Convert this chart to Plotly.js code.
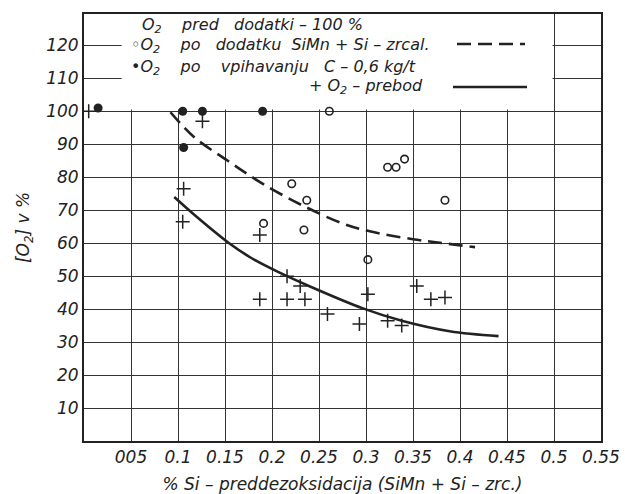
<!DOCTYPE html>
<html>
<head>
<meta charset="utf-8">
<script src="https://cdn.plot.ly/plotly-3.0.1.min.js"></script>
<style>
html,body{margin:0;padding:0;background:#fff;}
#chart{width:625px;height:494px;}
</style>
</head>
<body>
<div id="chart"></div>
<script>
// ---- data ----
// O2 po vpihavanju C - 0,6 kg/t (filled circles)
var blowX = [0.015, 0.105, 0.126, 0.190, 0.106];
var blowY = [101, 100, 100, 100, 89];
// O2 po dodatku SiMn + Si-zrcal. (open circles)
var addX = [0.261, 0.221, 0.237, 0.191, 0.234, 0.323, 0.332, 0.341, 0.384, 0.302];
var addY = [100, 78, 73, 66, 64, 83, 83, 85.5, 73, 55];
// O2 - prebod (crosses)
var prebodX = [0.005, 0.126, 0.106, 0.105, 0.187, 0.187, 0.216, 0.216, 0.230, 0.235, 0.259, 0.293, 0.302, 0.323, 0.338, 0.354, 0.369, 0.384];
var prebodY = [100, 97, 76.5, 66.5, 62.5, 43, 50, 43, 47, 43, 38.5, 35.5, 44.5, 36.5, 35, 47, 43, 43.5];
// dashed curve (SiMn + Si-zrcal.)
var dashX = [0.092, 0.117, 0.153, 0.189, 0.232, 0.275, 0.304, 0.350, 0.382, 0.416];
var dashY = [99.7, 92.2, 85, 78.2, 71.5, 66, 63.6, 61.2, 60, 58.8];
// solid curve (prebod)
var solidX = [0.096, 0.117, 0.153, 0.178, 0.207, 0.241, 0.296, 0.339, 0.389, 0.441];
var solidY = [74, 68.7, 60.3, 55.5, 51.2, 46.8, 40.3, 36.4, 33.3, 31.8];
// ticks
var xTickVals = [0.05, 0.1, 0.15, 0.2, 0.25, 0.3, 0.35, 0.4, 0.45, 0.5, 0.55];
var xTickText = ["005", "0.1", "0.15", "0.2", "0.25", "0.3", "0.35", "0.4", "0.45", "0.5", "0.55"];
var yTickVals = [10, 20, 30, 40, 50, 60, 70, 80, 90, 100, 110, 120];
var yTickText = ["10", "20", "30", "40", "50", "60", "70", "80", "90", "100", "110", "120"];

var INK = '#222';
var FONT = {family: 'DejaVu Sans, sans-serif', size: 17, color: INK, style: 'italic'};
var LFONT = {family: 'DejaVu Sans, sans-serif', size: 16, color: INK, style: 'italic'};

var traces = [
  {x: dashX, y: dashY, mode: 'lines', line: {color: INK, width: 2.6, dash: '14px,7px', shape: 'spline'}, hoverinfo: 'skip'},
  {x: solidX, y: solidY, mode: 'lines', line: {color: INK, width: 2.6, shape: 'spline'}, hoverinfo: 'skip'},
  {x: addX, y: addY, mode: 'markers', marker: {symbol: 'circle-open', size: 7.5, color: INK, line: {width: 1.6, color: INK}}},
  {x: blowX, y: blowY, mode: 'markers', marker: {symbol: 'circle', size: 9, color: INK}},
  {x: prebodX, y: prebodY, mode: 'markers', marker: {symbol: 'cross-thin-open', size: 10, color: INK, line: {width: 1.5, color: INK}}}
];

// pixel helpers for legend decoration (plot area 84..601 x 14..441)
function px(x){ return (x - 84) / 517; }
function py(y){ return (441 - y) / 427; }

var layout = {
  width: 625, height: 494,
  margin: {l: 84, r: 24, t: 14, b: 53},
  paper_bgcolor: '#fff', plot_bgcolor: '#fff',
  font: FONT,
  showlegend: false,
  xaxis: {
    range: [0, 0.55], tickvals: xTickVals, ticktext: xTickText,
    showgrid: true, gridcolor: '#333', gridwidth: 1,
    showline: true, mirror: true, linecolor: INK, linewidth: 2,
    zeroline: false, ticks: '', tickfont: FONT,
    title: {text: '% Si – preddezoksidacija (SiMn + Si – zrc.)', font: FONT, standoff: 12}
  },
  yaxis: {
    range: [0, 129.5], tickvals: yTickVals, ticktext: yTickText,
    showgrid: true, gridcolor: '#333', gridwidth: 1,
    showline: true, mirror: true, linecolor: INK, linewidth: 2,
    zeroline: false, ticks: '', tickfont: FONT,
    title: {text: '[O<sub>2</sub>] v %', font: FONT, standoff: 12}
  },
  shapes: [
    {type: 'rect', xref: 'x', yref: 'y', x0: 0.04, x1: 0.4985, y0: 100.5, y1: 131,
     fillcolor: '#fff', line: {width: 0}, layer: 'between'},
    {type: 'line', xref: 'paper', yref: 'paper', x0: px(457), x1: px(525), y0: py(44), y1: py(44),
     line: {color: INK, width: 2.6, dash: '14px,7px'}},
    {type: 'line', xref: 'paper', yref: 'paper', x0: px(453), x1: px(527), y0: py(87), y1: py(87),
     line: {color: INK, width: 2.6}}
  ],
  annotations: [
    {xref: 'paper', yref: 'paper', x: px(140), y: py(25), xanchor: 'left', yanchor: 'middle', showarrow: false,
     text: 'O<sub>2</sub>&nbsp;&nbsp;&nbsp; pred&nbsp;&nbsp; dodatki – 100 %', font: LFONT},
    {xref: 'paper', yref: 'paper', x: px(129), y: py(46), xanchor: 'left', yanchor: 'middle', showarrow: false,
     text: '◦O<sub>2</sub>&nbsp;&nbsp; &nbsp;po&nbsp;&nbsp; dodatku&nbsp; SiMn + Si – zrcal.', font: LFONT},
    {xref: 'paper', yref: 'paper', x: px(129), y: py(67), xanchor: 'left', yanchor: 'middle', showarrow: false,
     text: '•O<sub>2</sub>&nbsp;&nbsp; &nbsp;po&nbsp;&nbsp; &nbsp;vpihavanju&nbsp;&nbsp; C – 0,6 kg/t', font: LFONT},
    {xref: 'paper', yref: 'paper', x: px(307), y: py(87), xanchor: 'left', yanchor: 'middle', showarrow: false,
     text: '+ O<sub>2</sub> – prebod', font: LFONT}
  ]
};

Plotly.newPlot('chart', traces, layout, {staticPlot: true, displayModeBar: false});
</script>
</body>
</html>
